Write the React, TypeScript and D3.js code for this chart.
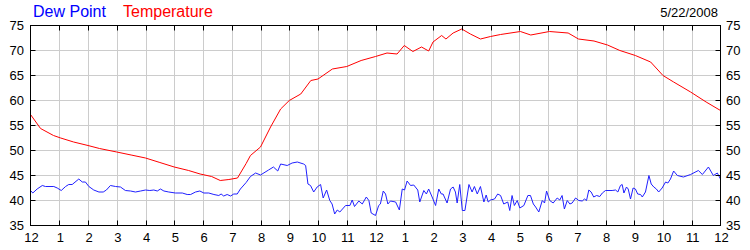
import React from "react";
import * as d3 from "d3";

const yTicks = [35, 40, 45, 50, 55, 60, 65, 70, 75];
const xTickLabels = ["12", "1", "2", "3", "4", "5", "6", "7", "8", "9", "10", "11", "12", "1", "2", "3", "4", "5", "6", "7", "8", "9", "10", "11", "12"];
const dateLabel = "5/22/2008";
const seriesNames = ["Dew Point", "Temperature"];

const tempHours = [0, 0.35, 0.8, 1.05, 1.5, 2.0, 2.4, 3.0, 3.5, 4.0, 4.5, 5.0, 5.5, 5.9, 6.3, 6.6, 6.9, 7.2, 7.5, 7.65, 8.0, 8.35, 8.7, 9.0, 9.4, 9.75, 10.0, 10.5, 11.0, 11.5, 12.0, 12.4, 12.75, 13.0, 13.3, 13.6, 13.85, 14.0, 14.3, 14.45, 14.7, 15.0, 15.3, 15.65, 16.0, 16.35, 17.04, 17.4, 18.05, 18.7, 19.06, 19.6, 20.07, 20.5, 21.04, 21.57, 22.0, 22.37, 22.96, 23.5, 24];
const tempValues = [57.2, 54.4, 53.0, 52.5, 51.7, 51.0, 50.4, 49.7, 49.1, 48.5, 47.6, 46.7, 46.0, 45.3, 44.8, 44.0, 44.2, 44.5, 47.4, 49.0, 50.7, 54.7, 58.3, 60.0, 61.3, 64.0, 64.3, 66.3, 66.8, 68.0, 68.8, 69.5, 69.3, 71.0, 69.8, 70.7, 69.9, 71.7, 73.0, 72.3, 73.5, 74.3, 73.3, 72.3, 72.8, 73.2, 73.8, 73.1, 73.8, 73.5, 72.3, 71.9, 71.1, 70.0, 69.0, 67.7, 65.0, 63.7, 61.7, 59.7, 58.0];

const dewHours = [
  0, 0.08, 0.23, 0.41, 0.52, 0.81, 0.93, 1.07, 1.22, 1.33, 1.45, 1.68, 1.8, 1.91, 2.03, 2.2, 2.38, 2.53, 2.64, 2.78, 2.96, 3.13, 3.3, 3.48, 3.65, 3.83, 4.0, 4.15, 4.29, 4.41, 4.52, 4.64, 4.81, 5.04, 5.28, 5.45, 5.57, 5.74, 5.89, 6.03, 6.2, 6.38, 6.55, 6.63, 6.72, 6.84, 6.96, 7.07, 7.19, 7.3,
  7.5, 7.65, 7.83, 8.0, 8.28, 8.45, 8.6, 8.7, 8.93, 9.1, 9.28, 9.5,
  9.57, 9.65, 9.74, 9.85, 9.97, 10.09, 10.18, 10.3, 10.41, 10.49, 10.58, 10.67, 10.76, 10.96, 11.11, 11.19, 11.27, 11.42, 11.54, 11.68, 11.77, 11.85, 12.0, 12.11, 12.17, 12.27, 12.35, 12.43, 12.52, 12.7, 12.83, 12.93, 13.01, 13.1, 13.22, 13.33, 13.47, 13.54,
  13.68, 13.77, 13.85, 13.97, 14.09, 14.2, 14.29, 14.35, 14.49, 14.61, 14.7, 14.78, 14.84, 14.93, 15.02, 15.11, 15.25, 15.36, 15.44, 15.54, 15.65, 15.77, 15.85, 15.92, 16.0, 16.14, 16.25, 16.35, 16.46, 16.6, 16.67, 16.75, 16.83, 16.93, 17.02, 17.16, 17.3, 17.39, 17.49, 17.57, 17.68, 17.8, 17.88, 17.95, 18.06,
  18.18, 18.32, 18.41, 18.49, 18.57, 18.67, 18.76, 18.84, 18.96, 19.07, 19.19, 19.27, 19.34, 19.42, 19.5, 19.59, 19.69, 19.8, 19.89, 20.0, 20.23, 20.35, 20.43, 20.52, 20.58, 20.64, 20.73, 20.79, 20.87, 20.96, 21.04, 21.12, 21.22, 21.28, 21.39, 21.51, 21.59, 21.68, 21.77, 21.85, 21.97, 22.09, 22.17, 22.26,
  22.37, 22.5, 22.71, 22.96, 23.23, 23.37, 23.58, 23.75, 23.89, 24,
];
const dewValues = [
  42, 41.5, 42.3, 43, 42.8, 42.8, 42.5, 42, 42.8, 43.2, 43.2, 44.3, 43.7, 43.7, 42.8, 42.1, 41.7, 41.7, 42.1, 43, 42.8, 42.7, 42, 41.9, 41.7, 41.9, 42.1, 42, 42.1, 41.9, 42.3, 41.9, 41.7, 41.5, 41.5, 41.2, 41.2, 41.7, 41.9, 41.5, 41.5, 41.2, 41, 41.3, 40.9, 41.2, 40.9, 41.3, 41.3, 42.3,
  43.6, 44.8, 45.5, 45.1, 46.1, 46.7, 45.9, 47.3, 47, 47.5, 47.7, 47.3,
  47, 43.3, 43, 41.7, 42.7, 43.2, 40.5, 42.1, 40, 39.3, 37.3, 38.1, 37.7, 39, 39, 40.1, 38.8, 39.9, 39.3, 40.7, 40, 37.5, 37, 39, 39.3, 41.9, 41.3, 39.3, 39.9, 39.7, 38.1, 42.3, 42.1, 43.9, 43, 43.1, 42.1, 39.7,
  42, 41.3, 42.3, 40.7, 39, 42.3, 41.3, 41.3, 39.5, 42.3, 42.7, 41.7, 39.5, 43.2, 38, 38, 43.2, 41.7, 42.8, 41.3, 42.8, 39.7, 41.1, 39.7, 40.1, 40.3, 41.3, 41, 39.3, 39.7, 38, 41, 39, 40, 38.5, 39, 41, 41, 39.3, 38.7, 37.7, 40, 39.5, 41.9, 40,
  39.5, 40.5, 40.1, 41, 38.3, 40, 39.3, 39.5, 40.5, 40, 39.9, 40.3, 40, 42.1, 41.7, 40.7, 41, 40.8, 41.5, 42, 42, 42.1, 41.7, 43, 43.2, 41.5, 42.7, 42.3, 40.3, 42.5, 42.3, 41.3, 41.2, 40.7, 41.7, 45, 43.3, 42.7, 42.3, 41.7, 42.5, 43.7, 43.5, 44.3,
  45.9, 45, 44.7, 45.2, 46, 45.2, 46.7, 45, 45.5, 44.3,
];

const W = 750;
const H = 250;
const left = 30.5;
const right = 720.5;
const top = 25.5;
const bottom = 225.5;
const font = "'Liberation Sans', Arial, sans-serif";

export default function App() {
  const x = d3.scaleLinear().domain([0, 24]).range([left, right]);
  const y = d3.scaleLinear().domain([35, 75]).range([bottom, top]);
  const hours = d3.range(0, 25);
  const line = d3
    .line<[number, number]>()
    .x((d) => x(d[0]))
    .y((d) => y(d[1]));
  const tempPath = line(tempHours.map((h, i) => [h, tempValues[i]]) as [number, number][]) || "";
  const dewPath = line(dewHours.map((h, i) => [h, dewValues[i]]) as [number, number][]) || "";

  return (
    <svg width={W} height={H} style={{ position: "absolute", left: 0, top: 0, background: "#fff" }}>
      <rect x={0} y={0} width={W} height={H} fill="#fff" />
      {hours.slice(1, -1).map((h) => (
        <line key={"gx" + h} x1={Math.round(x(h)) + 0.5} x2={Math.round(x(h)) + 0.5} y1={top} y2={bottom} stroke="#cccccc" />
      ))}
      {yTicks.slice(1, -1).map((v) => (
        <line key={"gy" + v} x1={left} x2={right} y1={y(v)} y2={y(v)} stroke="#cccccc" />
      ))}
      <path d={dewPath} fill="none" stroke="#2020ff" strokeWidth={1} />
      <path d={tempPath} fill="none" stroke="#ff0000" strokeWidth={1} />
      <rect x={left} y={top} width={right - left} height={bottom - top} fill="none" stroke="#000" />
      {hours.slice(1, -1).map((h) => (
        <g key={"tx" + h}>
          <line x1={Math.round(x(h)) + 0.5} x2={Math.round(x(h)) + 0.5} y1={top} y2={top + 5} stroke="#000" />
          <line x1={Math.round(x(h)) + 0.5} x2={Math.round(x(h)) + 0.5} y1={bottom} y2={bottom - 5} stroke="#000" />
        </g>
      ))}
      {yTicks.slice(1, -1).map((v) => (
        <g key={"ty" + v}>
          <line x1={left} x2={left + 5} y1={y(v)} y2={y(v)} stroke="#000" />
          <line x1={right} x2={right - 5} y1={y(v)} y2={y(v)} stroke="#000" />
        </g>
      ))}
      {yTicks.map((v) => (
        <g key={"ly" + v} fontFamily={font} fontSize={13} fill="#000">
          <text x={24} y={y(v)} textAnchor="end" dominantBaseline="central">{v}</text>
          <text x={726} y={y(v)} textAnchor="start" dominantBaseline="central">{v}</text>
        </g>
      ))}
      {xTickLabels.map((t, i) => (
        <text key={"lx" + i} x={x(i) + 1} y={242} textAnchor="middle" fontFamily={font} fontSize={13} fill="#000">{t}</text>
      ))}
      <text x={33} y={17} fontFamily={font} fontSize={16} fill="#0000ff">{seriesNames[0]}</text>
      <text x={123} y={17} fontFamily={font} fontSize={16} fill="#ff0000">{seriesNames[1]}</text>
      <text x={718} y={17} textAnchor="end" fontFamily={font} fontSize={13} fill="#000">{dateLabel}</text>
    </svg>
  );
}
